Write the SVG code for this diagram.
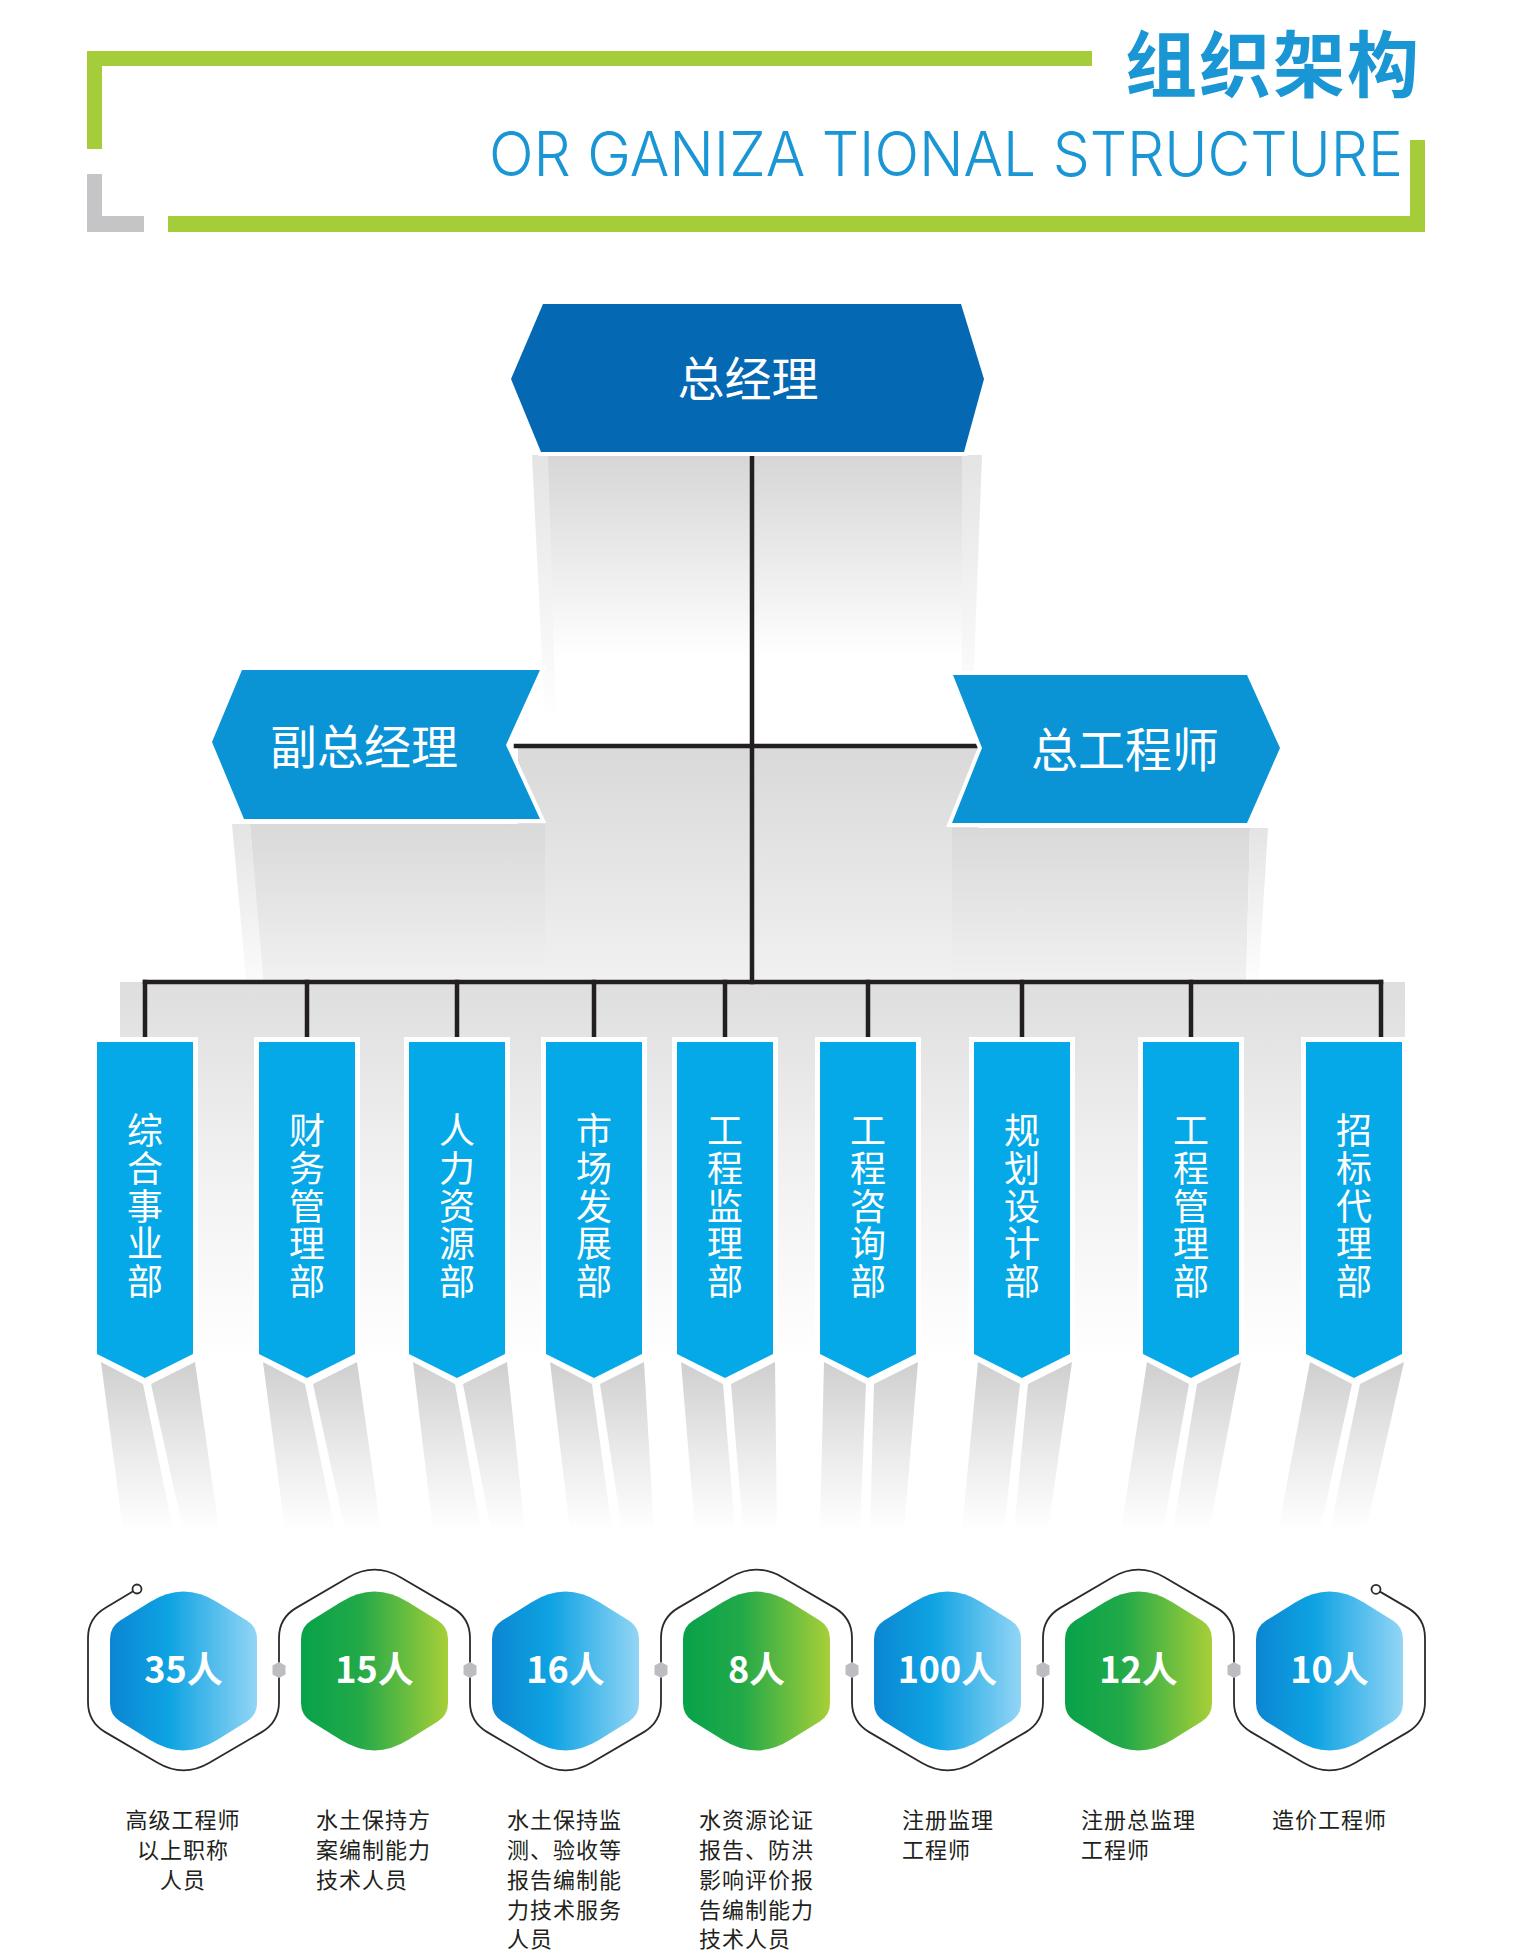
<svg xmlns="http://www.w3.org/2000/svg" width="1521" height="1957" viewBox="0 0 1521 1957">
<defs>
<style>
.ntxt{font-family:"Noto Sans CJK SC",sans-serif;font-size:47px;fill:#fff;text-anchor:middle}
.ln{stroke:#231f20;stroke-width:4.5;fill:none;stroke-linecap:square}
.desc{font-family:"Noto Sans CJK SC",sans-serif;font-size:22px;fill:#231f20;letter-spacing:1px}
.ban{fill:#05a9e8;stroke:#fff;stroke-width:10;paint-order:stroke}
.bt{font-family:"Noto Sans CJK SC",sans-serif;font-size:36px;fill:#fff;text-anchor:middle;writing-mode:vertical-rl;text-orientation:upright}
.num{font-family:"Noto Sans CJK SC",sans-serif;font-size:36px;font-weight:700;fill:#fff;text-anchor:middle}
.green{fill:#a5cd39}
.grey{fill:#c5c5c7}
.conn{fill:#bdbdc1}
.sh{fill:url(#gSh)}
.side{fill:url(#gSide)}
</style>
<linearGradient id="gTop" x1="0" y1="0" x2="0" y2="1">
<stop offset="0" stop-color="#d6d6d6"/><stop offset="0.7" stop-color="#ffffff"/><stop offset="1" stop-color="#ffffff"/>
</linearGradient>
<linearGradient id="gMid" x1="0" y1="0" x2="0" y2="1">
<stop offset="0" stop-color="#d9d9d9"/><stop offset="1" stop-color="#f1f1f1"/>
</linearGradient>
<linearGradient id="gBand" x1="0" y1="0" x2="0" y2="1">
<stop offset="0" stop-color="#dedede"/><stop offset="0.45" stop-color="#f0f0f0"/><stop offset="1" stop-color="#ffffff"/>
</linearGradient>
<linearGradient id="gSh" x1="0" y1="0" x2="0" y2="1">
<stop offset="0" stop-color="#cfcfcf"/><stop offset="0.55" stop-color="#ebebeb"/><stop offset="1" stop-color="#ffffff"/>
</linearGradient>
<linearGradient id="gSide" x1="0" y1="0" x2="0" y2="1">
<stop offset="0" stop-color="#e4e4e4"/><stop offset="1" stop-color="#ffffff"/>
</linearGradient>
<linearGradient id="gBlue" x1="0" y1="0" x2="1" y2="0">
<stop offset="0" stop-color="#0b86d1"/><stop offset="0.4" stop-color="#0ea3e3"/><stop offset="1" stop-color="#93d5f5"/>
</linearGradient>
<linearGradient id="gGreen" x1="0" y1="0" x2="1" y2="0">
<stop offset="0" stop-color="#07a24a"/><stop offset="0.4" stop-color="#22a948"/><stop offset="1" stop-color="#a8cf38"/>
</linearGradient>
<path id="hexIn" d="M -33.9 -68.8 Q 0 -90 33.9 -68.8 L 63.3 -50.4 Q 73.5 -44 73.5 -32 L 73.5 32 Q 73.5 44 63.3 50.4 L 33.9 68.8 Q 0 90 -33.9 68.8 L -63.3 50.4 Q -73.5 44 -73.5 32 L -73.5 -32 Q -73.5 -44 -63.3 -50.4 Z"/>
<polygon id="hexSm" points="0,-8 6.5,-4.5 6.5,4.5 0,8 -6.5,4.5 -6.5,-4.5"/>
<polygon id="banShape" points="0,1042 96,1042 96,1354 48,1378 0,1354"/>
</defs>
<rect x="0" y="0" width="1521" height="1957" fill="#ffffff"/>

<g id="header">
<rect class="green" x="87" y="51" width="1005" height="15"/>
<rect class="green" x="87" y="51" width="15" height="98"/>
<rect class="grey" x="87" y="174" width="15" height="58"/>
<rect class="grey" x="87" y="216" width="57" height="16"/>
<rect class="green" x="168" y="216" width="1257" height="16"/>
<rect class="green" x="1410" y="140" width="15" height="92"/>
<text x="1421" y="91" text-anchor="end" font-family="Noto Sans CJK SC, sans-serif" font-weight="700" font-size="72" fill="#1a96d4" letter-spacing="2">组织架构</text>
<text x="489" y="176" font-family="Inter, Liberation Sans, sans-serif" font-weight="300" font-size="62" fill="#1a96d4" textLength="914" lengthAdjust="spacingAndGlyphs">OR GANIZA TIONAL STRUCTURE</text>
</g>

<g id="shading">
<rect x="548" y="455" width="414" height="290" fill="url(#gTop)"/>
<polygon points="532,455 548,455 556,720 545,720" class="side"/>
<polygon points="962,455 982,455 972,720 962,720" class="side"/>
<rect x="518" y="748" width="460" height="234" fill="url(#gMid)"/>
<polygon points="250,824 545,824 545,982 262,982" fill="url(#gMid)"/>
<polygon points="232,824 250,824 266,1010 249,1010" class="side"/>
<polygon points="952,828 1250,828 1246,982 952,982" fill="url(#gMid)"/>
<polygon points="1250,828 1268,828 1258,990 1246,990" class="side"/>
<rect x="120" y="982" width="1285" height="380" fill="url(#gBand)"/>
<g id="bshadows">
<g transform="translate(97,0)"><polygon class="sh" points="4,1362 46,1384 76,1530 26,1530"/><polygon class="sh" points="54,1384 98,1362 122,1530 86,1530"/></g>
<g transform="translate(259,0)"><polygon class="sh" points="4,1362 46,1384 76,1530 26,1530"/><polygon class="sh" points="54,1384 98,1362 122,1530 86,1530"/></g>
<g transform="translate(409,0)"><polygon class="sh" points="4,1362 46,1384 72,1530 24,1530"/><polygon class="sh" points="54,1384 98,1362 116,1530 82,1530"/></g>
<g transform="translate(546,0)"><polygon class="sh" points="4,1362 46,1384 66,1530 24,1530"/><polygon class="sh" points="54,1384 98,1362 108,1530 76,1530"/></g>
<g transform="translate(677,0)"><polygon class="sh" points="4,1362 46,1384 58,1530 18,1530"/><polygon class="sh" points="54,1384 98,1362 100,1530 66,1530"/></g>
<g transform="translate(820,0)"><polygon class="sh" points="4,1362 46,1384 40,1530 0,1530"/><polygon class="sh" points="54,1384 98,1362 84,1530 50,1530"/></g>
<g transform="translate(974,0)"><polygon class="sh" points="4,1362 46,1384 30,1530 -12,1530"/><polygon class="sh" points="54,1384 98,1362 74,1530 40,1530"/></g>
<g transform="translate(1143,0)"><polygon class="sh" points="4,1362 46,1384 20,1530 -22,1530"/><polygon class="sh" points="54,1384 98,1362 66,1530 30,1530"/></g>
<g transform="translate(1306,0)"><polygon class="sh" points="4,1362 46,1384 14,1530 -28,1530"/><polygon class="sh" points="54,1384 98,1362 60,1530 24,1530"/></g>
</g>
</g>

<g id="connectors">
<line class="ln" x1="752" y1="458" x2="752" y2="982"/>
<line class="ln" x1="516" y1="746" x2="979" y2="746"/>
<line class="ln" x1="145" y1="982" x2="1381" y2="982"/>
<line class="ln" x1="145" y1="982" x2="145" y2="1035"/>
<line class="ln" x1="307" y1="982" x2="307" y2="1035"/>
<line class="ln" x1="457" y1="982" x2="457" y2="1035"/>
<line class="ln" x1="594" y1="982" x2="594" y2="1035"/>
<line class="ln" x1="725" y1="982" x2="725" y2="1035"/>
<line class="ln" x1="868" y1="982" x2="868" y2="1035"/>
<line class="ln" x1="1022" y1="982" x2="1022" y2="1035"/>
<line class="ln" x1="1191" y1="982" x2="1191" y2="1035"/>
<line class="ln" x1="1381" y1="982" x2="1381" y2="1035"/>
</g>

<g id="node-gm">
<polygon points="543,304 961,304 984,379 964,452 541,452 511,379" fill="#0568b3" stroke="#fff" stroke-width="8" paint-order="stroke"/>
<text class="ntxt" x="748" y="396">总经理</text>
</g>
<g id="node-vgm">
<polygon points="242,670 540,670 506,745 540,819 244,819 212,742" fill="#0a94d6" stroke="#fff" stroke-width="8" paint-order="stroke"/>
<text class="ntxt" x="364" y="764">副总经理</text>
</g>
<g id="node-ce">
<polygon points="953,675 1247,675 1280,748 1247,823 952,823 982,748" fill="#0a94d6" stroke="#fff" stroke-width="8" paint-order="stroke"/>
<text class="ntxt" x="1125" y="767">总工程师</text>
</g>

<g id="dept-1" transform="translate(97,0)"><use href="#banShape" class="ban"/>
<text class="bt" x="48" y="1130">综</text><text class="bt" x="48" y="1168">合</text><text class="bt" x="48" y="1206">事</text><text class="bt" x="48" y="1243">业</text><text class="bt" x="48" y="1281">部</text></g>
<g id="dept-2" transform="translate(259,0)"><use href="#banShape" class="ban"/>
<text class="bt" x="48" y="1130">财</text><text class="bt" x="48" y="1168">务</text><text class="bt" x="48" y="1206">管</text><text class="bt" x="48" y="1243">理</text><text class="bt" x="48" y="1281">部</text></g>
<g id="dept-3" transform="translate(409,0)"><use href="#banShape" class="ban"/>
<text class="bt" x="48" y="1130">人</text><text class="bt" x="48" y="1168">力</text><text class="bt" x="48" y="1206">资</text><text class="bt" x="48" y="1243">源</text><text class="bt" x="48" y="1281">部</text></g>
<g id="dept-4" transform="translate(546,0)"><use href="#banShape" class="ban"/>
<text class="bt" x="48" y="1130">市</text><text class="bt" x="48" y="1168">场</text><text class="bt" x="48" y="1206">发</text><text class="bt" x="48" y="1243">展</text><text class="bt" x="48" y="1281">部</text></g>
<g id="dept-5" transform="translate(677,0)"><use href="#banShape" class="ban"/>
<text class="bt" x="48" y="1130">工</text><text class="bt" x="48" y="1168">程</text><text class="bt" x="48" y="1206">监</text><text class="bt" x="48" y="1243">理</text><text class="bt" x="48" y="1281">部</text></g>
<g id="dept-6" transform="translate(820,0)"><use href="#banShape" class="ban"/>
<text class="bt" x="48" y="1130">工</text><text class="bt" x="48" y="1168">程</text><text class="bt" x="48" y="1206">咨</text><text class="bt" x="48" y="1243">询</text><text class="bt" x="48" y="1281">部</text></g>
<g id="dept-7" transform="translate(974,0)"><use href="#banShape" class="ban"/>
<text class="bt" x="48" y="1130">规</text><text class="bt" x="48" y="1168">划</text><text class="bt" x="48" y="1206">设</text><text class="bt" x="48" y="1243">计</text><text class="bt" x="48" y="1281">部</text></g>
<g id="dept-8" transform="translate(1143,0)"><use href="#banShape" class="ban"/>
<text class="bt" x="48" y="1130">工</text><text class="bt" x="48" y="1168">程</text><text class="bt" x="48" y="1206">管</text><text class="bt" x="48" y="1243">理</text><text class="bt" x="48" y="1281">部</text></g>
<g id="dept-9" transform="translate(1306,0)"><use href="#banShape" class="ban"/>
<text class="bt" x="48" y="1130">招</text><text class="bt" x="48" y="1168">标</text><text class="bt" x="48" y="1206">代</text><text class="bt" x="48" y="1243">理</text><text class="bt" x="48" y="1281">部</text></g>

<g id="stats-outline">
<path fill="none" stroke="#2b2b2b" stroke-width="1.8" d="M 133.1 1591.3 L 105.25 1607.9 Q 88 1618 88 1638 L 88 1702 Q 88 1722 105.25 1732.1 L 157.6 1762.8 Q 183.5 1778 209.4 1762.8 L 261.75 1732.1 Q 279 1722 279 1702 L 279 1638 Q 279 1618 296.25 1607.9 L 348.6 1577.2 Q 374.5 1562 400.4 1577.2 L 452.75 1607.9 Q 470 1618 470 1638 L 470 1702 Q 470 1722 487.25 1732.1 L 539.6 1762.8 Q 565.5 1778 591.4 1762.8 L 643.75 1732.1 Q 661 1722 661 1702 L 661 1638 Q 661 1618 678.25 1607.9 L 730.6 1577.2 Q 756.5 1562 782.4 1577.2 L 834.75 1607.9 Q 852 1618 852 1638 L 852 1702 Q 852 1722 869.25 1732.1 L 921.6 1762.8 Q 947.5 1778 973.4 1762.8 L 1025.75 1732.1 Q 1043 1722 1043 1702 L 1043 1638 Q 1043 1618 1060.25 1607.9 L 1112.6 1577.2 Q 1138.5 1562 1164.4 1577.2 L 1216.75 1607.9 Q 1234 1618 1234 1638 L 1234 1702 Q 1234 1722 1251.25 1732.1 L 1303.6 1762.8 Q 1329.5 1778 1355.4 1762.8 L 1407.75 1732.1 Q 1425 1722 1425 1702 L 1425 1638 Q 1425 1618 1407.75 1607.9 L 1379.9 1591.6"/>
<circle cx="137" cy="1589" r="4.5" fill="#fff" stroke="#2b2b2b" stroke-width="1.8"/>
<circle cx="1376" cy="1589.3" r="4.5" fill="#fff" stroke="#2b2b2b" stroke-width="1.8"/>
<use href="#hexSm" x="279" y="1670" class="conn"/>
<use href="#hexSm" x="470" y="1670" class="conn"/>
<use href="#hexSm" x="661" y="1670" class="conn"/>
<use href="#hexSm" x="852" y="1670" class="conn"/>
<use href="#hexSm" x="1043" y="1670" class="conn"/>
<use href="#hexSm" x="1234" y="1670" class="conn"/>
</g>

<g id="stat-1"><use href="#hexIn" x="183.5" y="1671" fill="url(#gBlue)"/><text class="num" x="183.5" y="1683">35人</text>
<text class="desc" text-anchor="middle"><tspan x="183" y="1828">高级工程师</tspan><tspan x="183" y="1858">以上职称</tspan><tspan x="183" y="1888">人员</tspan></text></g>
<g id="stat-2"><use href="#hexIn" x="374.5" y="1671" fill="url(#gGreen)"/><text class="num" x="374.5" y="1683">15人</text>
<text class="desc"><tspan x="316" y="1828">水土保持方</tspan><tspan x="316" y="1858">案编制能力</tspan><tspan x="316" y="1888">技术人员</tspan></text></g>
<g id="stat-3"><use href="#hexIn" x="565.5" y="1671" fill="url(#gBlue)"/><text class="num" x="565.5" y="1683">16人</text>
<text class="desc"><tspan x="507" y="1828">水土保持监</tspan><tspan x="507" y="1858">测、验收等</tspan><tspan x="507" y="1888">报告编制能</tspan><tspan x="507" y="1918">力技术服务</tspan><tspan x="507" y="1947">人员</tspan></text></g>
<g id="stat-4"><use href="#hexIn" x="756.5" y="1671" fill="url(#gGreen)"/><text class="num" x="756.5" y="1683">8人</text>
<text class="desc"><tspan x="699" y="1828">水资源论证</tspan><tspan x="699" y="1858">报告、防洪</tspan><tspan x="699" y="1888">影响评价报</tspan><tspan x="699" y="1918">告编制能力</tspan><tspan x="699" y="1947">技术人员</tspan></text></g>
<g id="stat-5"><use href="#hexIn" x="947.5" y="1671" fill="url(#gBlue)"/><text class="num" x="947.5" y="1683">100人</text>
<text class="desc"><tspan x="902" y="1828">注册监理</tspan><tspan x="902" y="1858">工程师</tspan></text></g>
<g id="stat-6"><use href="#hexIn" x="1138.5" y="1671" fill="url(#gGreen)"/><text class="num" x="1138.5" y="1683">12人</text>
<text class="desc"><tspan x="1081" y="1828">注册总监理</tspan><tspan x="1081" y="1858">工程师</tspan></text></g>
<g id="stat-7"><use href="#hexIn" x="1329.5" y="1671" fill="url(#gBlue)"/><text class="num" x="1329.5" y="1683">10人</text>
<text class="desc"><tspan x="1272" y="1828">造价工程师</tspan></text></g>
</svg>
